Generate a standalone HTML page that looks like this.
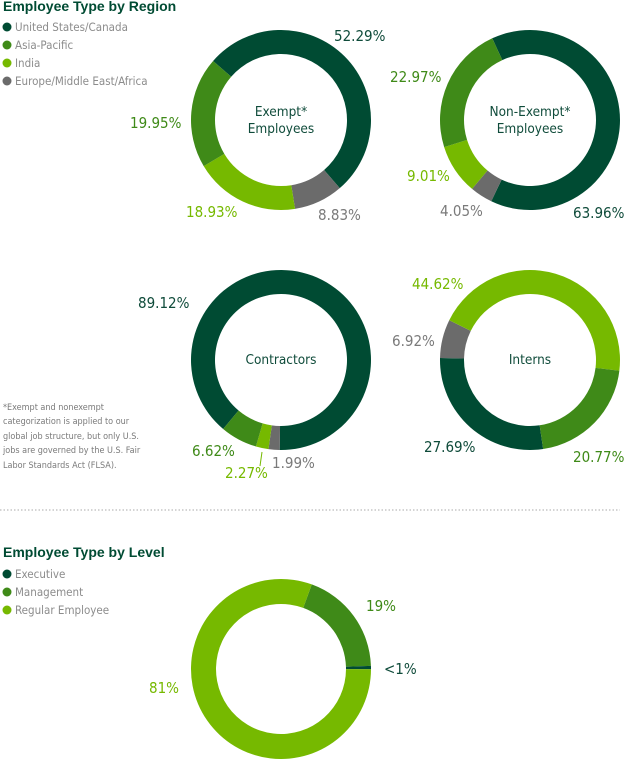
<!DOCTYPE html>
<html><head><meta charset="utf-8"><style>
html,body{margin:0;padding:0;background:#fff;width:627px;height:759px;overflow:hidden}
svg{display:block;font-family:"DejaVu Sans Condensed","Liberation Sans",sans-serif}
.t{font-size:14px;font-weight:bold;fill:#004b33;font-family:"Liberation Sans",sans-serif}
.lg{font-size:11.5px;fill:#8c8c8c}
.pl{font-size:15px}
.ct{font-size:13.5px;fill:#0f4b3a}
.fn{font-size:9px;fill:#7a7a7a}
</style></head><body>
<svg id="c" width="627" height="759" viewBox="0 0 627 759">
<text class="t" x="3" y="11">Employee Type by Region</text>
<g>
<circle cx="7" cy="27" r="4.5" fill="#004b33"/><text class="lg" x="15" y="31">United States/Canada</text>
<circle cx="7" cy="45" r="4.5" fill="#3f8a18"/><text class="lg" x="15" y="49">Asia-Pacific</text>
<circle cx="7" cy="63" r="4.5" fill="#76b900"/><text class="lg" x="15" y="67">India</text>
<circle cx="7" cy="81" r="4.5" fill="#6b6b6b"/><text class="lg" x="15" y="85">Europe/Middle East/Africa</text>
</g>
<g id="donuts"></g>
<g>
<text class="pl" x="334" y="41" fill="#0f4b3a">52.29%</text>
<text class="pl" x="130" y="128" fill="#3f8a18">19.95%</text>
<text class="pl" x="186" y="217" fill="#76b900">18.93%</text>
<text class="pl" x="318" y="220" fill="#7a7a7a">8.83%</text>
<text class="pl" x="390" y="82" fill="#3f8a18">22.97%</text>
<text class="pl" x="407" y="181" fill="#76b900">9.01%</text>
<text class="pl" x="440" y="216" fill="#7a7a7a">4.05%</text>
<text class="pl" x="573" y="218" fill="#0f4b3a">63.96%</text>
<text class="pl" x="138" y="308" fill="#0f4b3a">89.12%</text>
<text class="pl" x="192" y="456" fill="#3f8a18">6.62%</text>
<text class="pl" x="225" y="478" fill="#76b900">2.27%</text>
<line x1="262" y1="452" x2="260" y2="466" stroke="#76b900" stroke-width="1"/>
<text class="pl" x="272" y="468" fill="#7a7a7a">1.99%</text>
<text class="pl" x="412" y="289" fill="#76b900">44.62%</text>
<text class="pl" x="392" y="346" fill="#7a7a7a">6.92%</text>
<text class="pl" x="424" y="452" fill="#0f4b3a">27.69%</text>
<text class="pl" x="573" y="462" fill="#3f8a18">20.77%</text>
<text class="pl" x="366" y="611" fill="#3f8a18">19%</text>
<text class="pl" x="384" y="674" fill="#0f4b3a">&lt;1%</text>
<text class="pl" x="149" y="693" fill="#76b900">81%</text>
</g>
<g>
<text class="ct" x="281" y="116" text-anchor="middle">Exempt*</text>
<text class="ct" x="281" y="133" text-anchor="middle">Employees</text>
<text class="ct" x="530" y="116" text-anchor="middle">Non-Exempt*</text>
<text class="ct" x="530" y="133" text-anchor="middle">Employees</text>
<text class="ct" x="281" y="364" text-anchor="middle">Contractors</text>
<text class="ct" x="530" y="364" text-anchor="middle">Interns</text>
</g>
<g>
<text class="fn" x="3" y="410">*Exempt and nonexempt</text>
<text class="fn" x="3" y="424">categorization is applied to our</text>
<text class="fn" x="3" y="439">global job structure, but only U.S.</text>
<text class="fn" x="3" y="453">jobs are governed by the U.S. Fair</text>
<text class="fn" x="3" y="468">Labor Standards Act (FLSA).</text>
</g>
<line x1="0" y1="510" x2="620" y2="510" stroke="#aaa" stroke-width="1" stroke-dasharray="1.5,2"/>
<text class="t" x="3" y="557">Employee Type by Level</text>
<g>
<circle cx="7" cy="574" r="4.5" fill="#004b33"/><text class="lg" x="15" y="578">Executive</text>
<circle cx="7" cy="592" r="4.5" fill="#3f8a18"/><text class="lg" x="15" y="596">Management</text>
<circle cx="7" cy="610" r="4.5" fill="#76b900"/><text class="lg" x="15" y="614">Regular Employee</text>
</g>
</svg>
<script>
// region order (clockwise): US/Canada, EMEA, India, Asia-Pacific
const regionColors = ["#004b33","#6b6b6b","#76b900","#3f8a18"];
const exemptValues = [52.29, 8.83, 18.93, 19.95];
const nonExemptValues = [63.96, 4.05, 9.01, 22.97];
const contractorValues = [89.12, 1.99, 2.27, 6.62];
const internValues = [27.69, 6.92, 44.62, 20.77];
// level order (clockwise): Management, Executive, Regular
const levelColors = ["#3f8a18","#004b33","#76b900"];
const levelValues = [19, 0.6, 81];

const g = document.getElementById('donuts');
function pt(cx, cy, r, a){ const t = a*Math.PI/180; return [cx + r*Math.sin(t), cy - r*Math.cos(t)]; }
function donut(name, values, colors, cx, cy, R, r, start){
  const total = values.reduce((a,b)=>a+b,0);
  let a = start;
  values.forEach((v,i)=>{
    const sweep = v/total*360;
    const a2 = a + sweep;
    const large = sweep > 180 ? 1 : 0;
    const p1 = pt(cx,cy,R,a), p2 = pt(cx,cy,R,a2), p3 = pt(cx,cy,r,a2), p4 = pt(cx,cy,r,a);
    const d = `M${p1[0]},${p1[1]}A${R},${R} 0 ${large} 1 ${p2[0]},${p2[1]}L${p3[0]},${p3[1]}A${r},${r} 0 ${large} 0 ${p4[0]},${p4[1]}Z`;
    const el = document.createElementNS('http://www.w3.org/2000/svg','path');
    el.setAttribute('d', d);
    el.setAttribute('fill', colors[i]);
    
    
    g.appendChild(el);
    a = a2;
  });
}
donut('exempt', exemptValues, regionColors, 281, 120, 90, 66, -49);
donut('non-exempt', nonExemptValues, regionColors, 530, 120, 90, 66, -24.8);
donut('contractors', contractorValues, regionColors, 281, 360, 90, 66, 220);
donut('interns', internValues, regionColors, 530, 360, 90, 66, 171.6);
donut('level', levelValues, levelColors, 281, 669, 90, 65, 20);
</script>
</body></html>
